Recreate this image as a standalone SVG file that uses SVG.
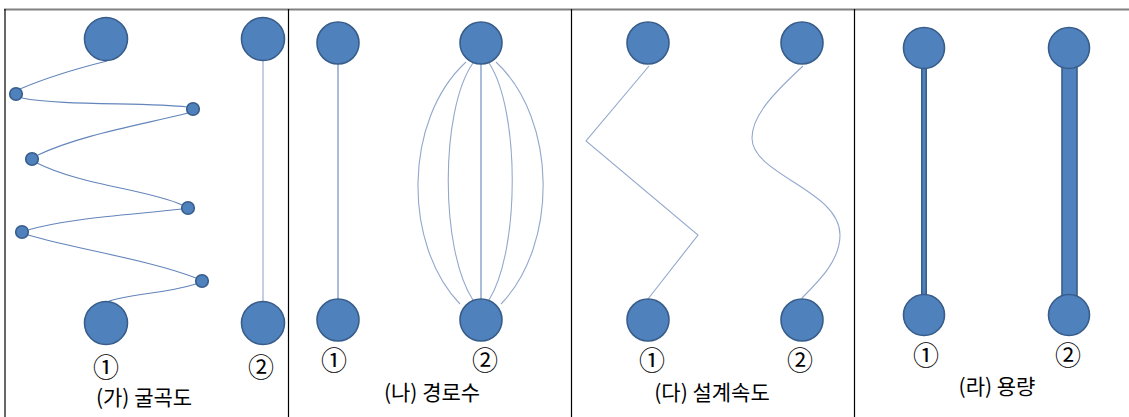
<svg xmlns="http://www.w3.org/2000/svg" width="1129" height="417" viewBox="0 0 1129 417">
<style>
.node{fill:#4F81BD;stroke:#385D8A;stroke-width:1.6}
.link{fill:none;stroke:#6385BA;stroke-width:1.1}
.link2{fill:none;stroke:#93A8CC;stroke-width:1.1}
.frame{stroke:#000;stroke-width:1.2}
.lbl{font-family:"Noto Sans CJK KR","Liberation Serif",serif;font-size:21px;fill:#000;text-anchor:middle}
.num{font-family:"Noto Sans CJK KR","DejaVu Sans",sans-serif;font-size:26px;fill:#000;text-anchor:middle}
</style>
<rect x="0" y="0" width="1129" height="417" fill="#fff"/>
<g id="frame">
<line x1="4" y1="9.5" x2="1129" y2="9.5" stroke="#808080" stroke-width="2"/>
<line class="frame" x1="5" y1="9" x2="5" y2="417"/>
<line class="frame" x1="288.5" y1="9" x2="288.5" y2="417"/>
<line class="frame" x1="571.5" y1="9" x2="571.5" y2="417"/>
<line class="frame" x1="854.5" y1="9" x2="854.5" y2="417"/>
</g>
<g id="connectors">
<path class="link" d="M107,61 Q55,74 20,89"/>
<path class="link" d="M22,98 C60,106 150,102 187,107"/>
<path class="link" d="M188,113 C140,125 80,135 38,155"/>
<path class="link" d="M37,163 C80,185 150,190 182,205"/>
<path class="link" d="M182,209 C130,215 70,218 28,230"/>
<path class="link" d="M28,235 C80,250 150,260 196,278"/>
<path class="link" d="M196,284 C160,295 130,293 107,302"/>
<line class="link2" x1="263" y1="61" x2="263" y2="301"/>
<line class="link" x1="338" y1="64" x2="338" y2="299"/>
<path class="link2" d="M466,62 C403,120 403,245 460,304"/>
<path class="link2" d="M473,63 C440,110 440,250 473,300"/>
<line class="link" x1="481" y1="64" x2="481" y2="299"/>
<path class="link2" d="M489,63 C520,110 520,250 489,300"/>
<path class="link2" d="M496,62 C558,120 558,245 501,304"/>
<path class="link2" d="M649,66 L586,141 L698,235 L648,299"/>
<path class="link2" d="M803,66 C775,92 752,115 752,138 C752,175 840,190 840,235 C840,260 820,280 802,298"/>
<line x1="924" y1="62" x2="924" y2="300" stroke="#385D8A" stroke-width="6"/>
<line x1="924" y1="62" x2="924" y2="300" stroke="#4F81BD" stroke-width="3"/>
<rect x="1062" y="58" width="15" height="245" fill="#4F81BD" stroke="#385D8A" stroke-width="1.6"/>
</g>
<g id="panel-ga">
<circle class="node" cx="106" cy="39" r="21.5"/>
<circle class="node" cx="106" cy="323" r="21.5"/>
<circle class="node" cx="263" cy="39" r="21.5"/>
<circle class="node" cx="263" cy="323" r="21.5"/>
<circle class="node" cx="16" cy="94" r="6.3"/>
<circle class="node" cx="193" cy="109" r="6.3"/>
<circle class="node" cx="32" cy="159" r="6.3"/>
<circle class="node" cx="188" cy="208" r="6.3"/>
<circle class="node" cx="22" cy="232" r="6.3"/>
<circle class="node" cx="202" cy="281" r="6.3"/>
<text class="num" x="106" y="377">①</text>
<text class="num" x="261" y="377">②</text>
<text class="lbl" x="144" y="405">(가) 굴곡도</text>
</g>
<g id="panel-na">
<circle class="node" cx="338" cy="43" r="21"/>
<circle class="node" cx="338" cy="320" r="21"/>
<circle class="node" cx="481" cy="43" r="21"/>
<circle class="node" cx="481" cy="320" r="21"/>
<text class="num" x="334" y="370">①</text>
<text class="num" x="485" y="370">②</text>
<text class="lbl" x="432" y="400">(나) 경로수</text>
</g>
<g id="panel-da">
<circle class="node" cx="648" cy="43" r="21"/>
<circle class="node" cx="648" cy="320" r="21"/>
<circle class="node" cx="802" cy="43" r="21"/>
<circle class="node" cx="802" cy="320" r="21"/>
<text class="num" x="652" y="370">①</text>
<text class="num" x="800" y="370">②</text>
<text class="lbl" x="712" y="400">(다) 설계속도</text>
</g>
<g id="panel-ra">
<circle class="node" cx="924" cy="48" r="20.5"/>
<circle class="node" cx="924" cy="315" r="20.5"/>
<circle class="node" cx="1069" cy="48" r="20.5"/>
<circle class="node" cx="1069" cy="315" r="20.5"/>
<text class="num" x="926" y="365">①</text>
<text class="num" x="1068" y="365">②</text>
<text class="lbl" x="997" y="394">(라) 용량</text>
</g>
</svg>
